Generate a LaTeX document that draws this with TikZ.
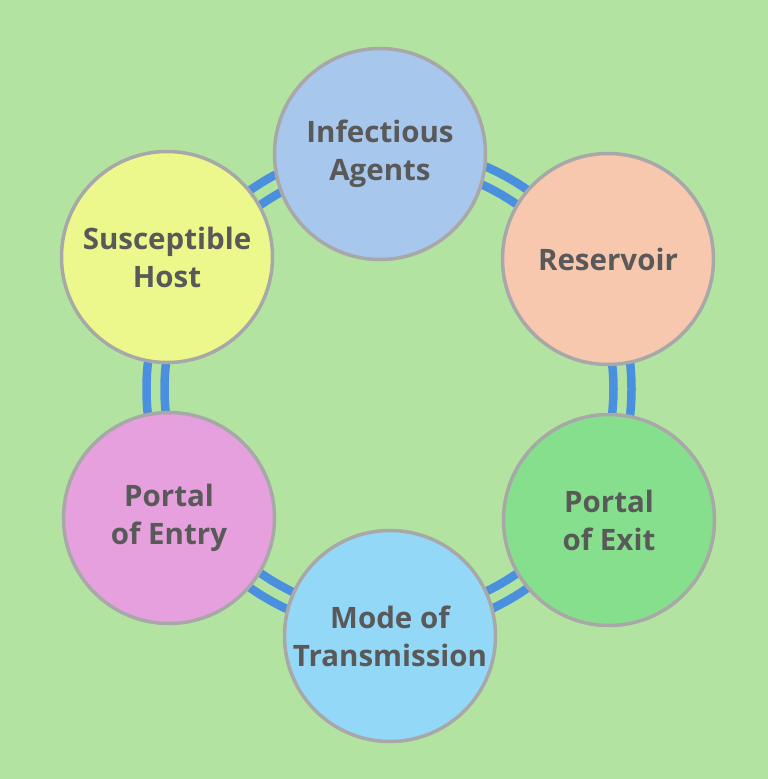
\documentclass[tikz,border=0pt]{standalone}
\usepackage{fontspec}
\setmainfont{Open Sans}
\begin{document}
\begin{tikzpicture}[x=1pt,y=-1pt,
  ringline/.style={draw=ringblue,line width=8.5pt},
  bubble/.style={circle,draw=bordergrey,line width=3.5pt,minimum size=211pt,inner sep=0pt,
    font=\fontsize{29.5}{38}\selectfont\bfseries,text=textgrey,align=center}]
\definecolor{bg}{RGB}{179,227,160}
\definecolor{ringblue}{RGB}{74,144,222}
\definecolor{bordergrey}{RGB}{168,168,168}
\definecolor{textgrey}{RGB}{89,89,89}
\definecolor{cA}{RGB}{167,200,236}
\definecolor{cB}{RGB}{247,200,174}
\definecolor{cC}{RGB}{134,223,140}
\definecolor{cD}{RGB}{148,216,248}
\definecolor{cE}{RGB}{230,160,221}
\definecolor{cF}{RGB}{237,248,140}
\fill[bg] (0,0) rectangle (768,779);
\useasboundingbox (0,0) rectangle (768,779);
\coordinate (ringc) at (389,389);
\draw[ringline] (ringc) circle[radius=224.5];
\draw[ringline] (ringc) circle[radius=242.5];
\node[bubble,fill=cA] (agents) at (380,154) {Infectious\\Agents};
\node[bubble,fill=cB] (res) at (608,259) {Reservoir};
\node[bubble,fill=cC] (exit) at (609,520) {Portal\\of Exit};
\node[bubble,fill=cD] (mode) at (390,636) {Mode of\\Transmission};
\node[bubble,fill=cE] (entry) at (169,518) {Portal\\of Entry};
\node[bubble,fill=cF] (host) at (167,257) {Susceptible\\Host};
\end{tikzpicture}
\end{document}
